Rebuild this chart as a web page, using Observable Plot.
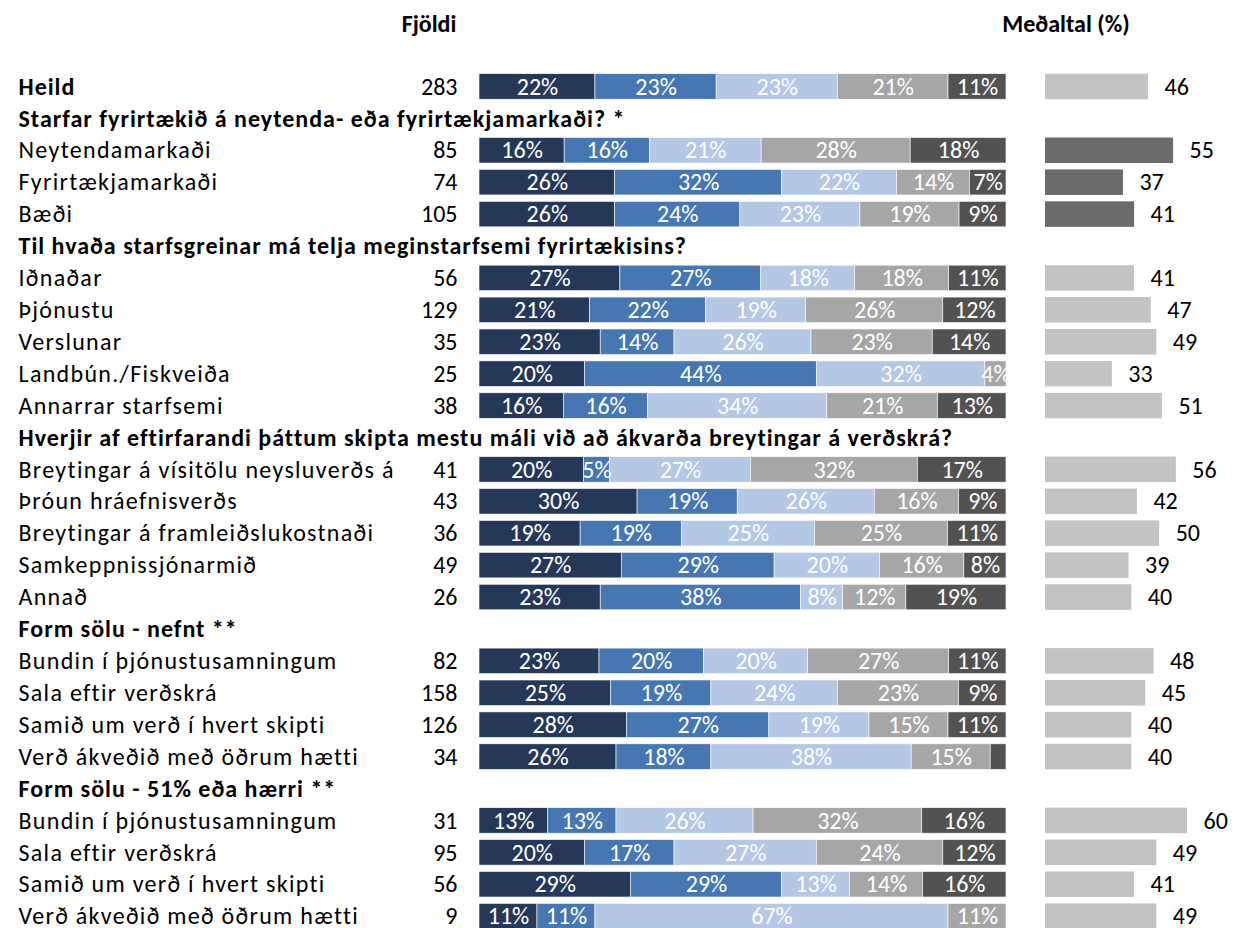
<!DOCTYPE html>
<html>
<head>
<meta charset="utf-8">
<script src="https://cdn.jsdelivr.net/npm/d3@7"></script>
<script src="https://cdn.jsdelivr.net/npm/@observablehq/plot@0.6"></script>
<style>
  html, body { margin: 0; padding: 0; background: #fff; overflow: hidden; }
  #wrap { position: relative; width: 1237px; height: 928px; font-family: Carlito, Calibri, Lato, sans-serif; }
  #wrap > svg, #wrap > figure { position: absolute; left: 0; top: 0; margin: 0; }
  .colhead { position: absolute; top: 9px; font-weight: bold; font-size: 24px; line-height: 30px; color: #000; transform: translateX(-50%); white-space: nowrap; }
</style>
</head>
<body>
<div id="wrap">
  <div class="colhead" style="left:429px">Fjöldi</div>
  <div class="colhead" style="left:1066px">Meðaltal (%)</div>
</div>
<script>
// ---- data ----
const labels = [
  "Heild",
  "Starfar fyrirtækið á neytenda- eða fyrirtækjamarkaði? *",
  "Neytendamarkaði", "Fyrirtækjamarkaði", "Bæði",
  "Til hvaða starfsgreinar má telja meginstarfsemi fyrirtækisins?",
  "Iðnaðar", "Þjónustu", "Verslunar", "Landbún./Fiskveiða", "Annarrar starfsemi",
  "Hverjir af eftirfarandi þáttum skipta mestu máli við að ákvarða breytingar á verðskrá?",
  "Breytingar á vísitölu neysluverðs á", "Þróun hráefnisverðs", "Breytingar á framleiðslukostnaði", "Samkeppnissjónarmið", "Annað",
  "Form sölu - nefnt **",
  "Bundin í þjónustusamningum", "Sala eftir verðskrá", "Samið um verð í hvert skipti", "Verð ákveðið með öðrum hætti",
  "Form sölu - 51% eða hærri **",
  "Bundin í þjónustusamningum", "Sala eftir verðskrá", "Samið um verð í hvert skipti", "Verð ákveðið með öðrum hætti"
];
// "total" = bold data row, "header" = bold section header, "item" = normal row
const kinds = ["total","header","item","item","item","header","item","item","item","item","item",
  "header","item","item","item","item","item","header","item","item","item","item","header","item","item","item","item"];
const counts = [283,null,85,74,105,null,56,129,35,25,38,null,41,43,36,49,26,null,82,158,126,34,null,31,95,56,9];
const s1 = [22,null,16,26,26,null,27,21,23,20,16,null,20,30,19,27,23,null,23,25,28,26,null,13,20,29,11];
const s2 = [23,null,16,32,24,null,27,22,14,44,16,null,5,19,19,29,38,null,20,19,27,18,null,13,17,29,11];
const s3 = [23,null,21,22,23,null,18,19,26,32,34,null,27,26,25,20,8,null,20,24,19,38,null,26,27,13,67];
const s4 = [21,null,28,14,19,null,18,26,23,4,21,null,32,16,25,16,12,null,27,23,15,15,null,32,24,14,11];
const s5 = [11,null,18,7,9,null,11,12,14,0,13,null,17,9,11,8,19,null,11,9,11,3,null,16,12,16,0];
const means = [46,null,55,37,41,null,41,47,49,33,51,null,56,42,50,39,40,null,48,45,40,40,null,60,49,41,49];
const meanGroup = ["Heild",null,"markaður","markaður","markaður",null,"a","a","a","a","a",null,"a","a","a","a","a",null,"a","a","a","a",null,"a","a","a","a"];
const seriesNames = ["s1","s2","s3","s4","s5"];
const seriesColors = ["#253858","#4677b2","#b4c7e4","#a6a6a6","#525252"];
const meanColors = {"Heild":"#c3c3c3","markaður":"#6b6b6b","a":"#c3c3c3"};

// ---- build tables ----
const rows = labels.map((label, i) => ({i, label, kind: kinds[i], count: counts[i], mean: means[i], group: meanGroup[i]}));
const series = [s1, s2, s3, s4, s5];
const long = [];
seriesNames.forEach((name, k) => {
  rows.forEach(r => {
    const v = series[k][r.i];
    if (v != null) long.push({i: r.i, cat: name, v});
  });
});
const ids = rows.map(r => r.i);

const W = 1237, H = 928;
const font = "Carlito, Calibri, Lato, sans-serif";
const FS = 24;
const yScale = {type: "band", domain: ids, range: [67.3, 935.3], padding: 0.2, round: false, axis: null};
const base = {width: W, height: H, marginTop: 0, marginBottom: 0, style: {fontFamily: font, overflow: "visible", background: "transparent"}};

// left: labels and counts
const pLabels = Plot.plot({
  ...base, marginLeft: 18, marginRight: W - 457,
  y: yScale,
  marks: [
    Plot.text(rows.filter(r => r.kind === "item"), {y: "i", text: "label", frameAnchor: "left", textAnchor: "start", fontSize: FS, fill: "#000"}),
    Plot.text(rows.filter(r => r.kind !== "item"), {y: "i", text: "label", frameAnchor: "left", textAnchor: "start", fontSize: FS, fontWeight: "bold", fill: "#000"}),
    Plot.text(rows.filter(r => r.count != null), {y: "i", text: "count", frameAnchor: "right", textAnchor: "end", fontSize: FS, fill: "#000"})
  ]
});
const textGroups = pLabels.querySelectorAll('g[aria-label="text"]');
if (textGroups[0]) textGroups[0].setAttribute("letter-spacing", "1.3px");
if (textGroups[1]) textGroups[1].setAttribute("letter-spacing", "1px");

// middle: stacked bars
const pBars = Plot.plot({
  ...base, marginLeft: 479, marginRight: W - 1006,
  y: yScale,
  x: {axis: null},
  color: {domain: seriesNames, range: seriesColors},
  marks: [
    Plot.barX(long, Plot.stackX({x: "v", y: "i", z: "cat", fill: "cat", offset: "normalize", stroke: "#fff", strokeWidth: 0.6})),
    Plot.text(long, Plot.stackX({x: "v", y: "i", z: "cat", offset: "normalize", text: d => d.v >= 4 ? d.v + "%" : "", fill: "#fff", fontSize: FS, clip: true}))
  ]
});

// right: means
const meanRows = rows.filter(r => r.mean != null);
const pMeans = Plot.plot({
  ...base, marginLeft: 1045, marginRight: W - 1187,
  y: yScale,
  x: {domain: [9, 60], axis: null},
  marks: [
    Plot.barX(meanRows, {x1: 9, x2: "mean", y: "i", fill: d => meanColors[d.group]}),
    Plot.text(meanRows, {x: "mean", y: "i", text: "mean", dx: 16, textAnchor: "start", fontSize: FS, fill: "#000"})
  ]
});

const wrap = document.getElementById("wrap");
[pBars, pMeans, pLabels].forEach(p => wrap.appendChild(p));
</script>
</body>
</html>
